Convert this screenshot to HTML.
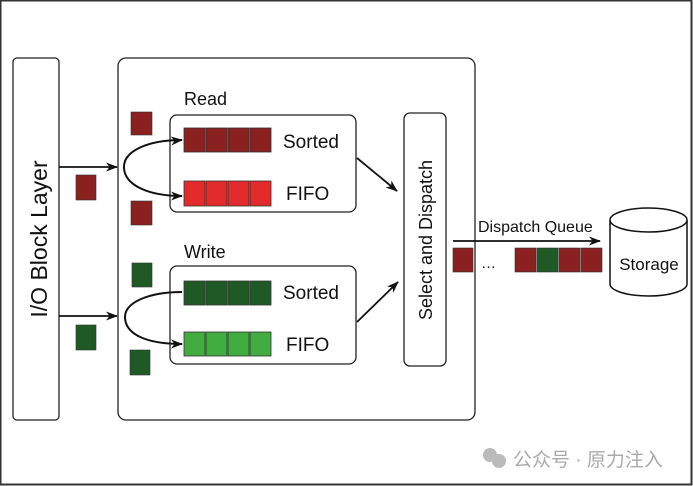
<!DOCTYPE html>
<html><head><meta charset="utf-8"><style>
html,body{margin:0;padding:0;background:#fff}
svg{display:block}
text{font-family:"Liberation Sans",Arial,sans-serif}
</style></head><body>
<svg width="693" height="486" viewBox="0 0 693 486" xmlns="http://www.w3.org/2000/svg">
<defs>
<marker id="a" markerWidth="12" markerHeight="9" refX="11" refY="4.5" orient="auto" markerUnits="userSpaceOnUse">
<path d="M0,0 L12,4.5 L0,9 L3.5,4.5 Z" fill="#111"/></marker>
</defs>
<rect x="0.5" y="0.5" width="691" height="484" fill="#fff" stroke="#333" stroke-width="2"/>
<rect x="13" y="58" width="46" height="362" rx="4" fill="#fff" stroke="#222" stroke-width="1.3"/>
<text transform="translate(47,239) rotate(-90)" font-size="23" text-anchor="middle" fill="#111">I/O Block Layer</text>
<rect x="118" y="58" width="357" height="362" rx="8" fill="#fff" stroke="#222" stroke-width="1.3"/>
<line x1="59" y1="167" x2="117" y2="167" stroke="#111" stroke-width="1.8" marker-end="url(#a)"/>
<line x1="59" y1="316" x2="117" y2="316" stroke="#111" stroke-width="1.8" marker-end="url(#a)"/>
<rect x="76" y="175" width="20" height="25" fill="#8b2020" stroke="#333" stroke-width="0.6"/>
<rect x="76" y="325" width="20" height="25" fill="#1f5a26" stroke="#333" stroke-width="0.6"/>
<text x="184" y="105" font-size="18" fill="#111">Read</text>
<rect x="170" y="115" width="186" height="97" rx="7" fill="#fff" stroke="#222" stroke-width="1.3"/>
<rect x="131" y="112" width="21" height="23" fill="#8b2020" stroke="#333" stroke-width="0.6"/>
<rect x="131" y="201" width="21" height="24" fill="#8b2020" stroke="#333" stroke-width="0.6"/>
<g fill="#8b2020" stroke="#333" stroke-width="0.8">
<rect x="184" y="128" width="21" height="24"/><rect x="206" y="128" width="21" height="24"/><rect x="228" y="128" width="21" height="24"/><rect x="250" y="128" width="21" height="24"/></g>
<g fill="#e32b2b" stroke="#333" stroke-width="0.8">
<rect x="184" y="181" width="21" height="25"/><rect x="206" y="181" width="21" height="25"/><rect x="228" y="181" width="21" height="25"/><rect x="250" y="181" width="21" height="25"/></g>
<text x="283" y="148" font-size="19" fill="#111">Sorted</text>
<text x="286" y="200" font-size="19" fill="#111">FIFO</text>
<path d="M182,140 C150,140 123,150 124,168 C125,186 150,196 182,196" fill="none" stroke="#111" stroke-width="2" marker-end="url(#a)"/>
<path d="M160,142 L182,140" fill="none" stroke="none" marker-end="url(#a)"/>
<text x="184" y="258" font-size="18" fill="#111">Write</text>
<rect x="170" y="266" width="186" height="98" rx="7" fill="#fff" stroke="#222" stroke-width="1.3"/>
<rect x="132" y="263" width="20" height="24" fill="#1f5a26" stroke="#333" stroke-width="0.6"/>
<rect x="130" y="350" width="20" height="25" fill="#1f5a26" stroke="#333" stroke-width="0.6"/>
<g fill="#1f5a26" stroke="#333" stroke-width="0.8">
<rect x="184" y="281" width="21" height="24"/><rect x="206" y="281" width="21" height="24"/><rect x="228" y="281" width="21" height="24"/><rect x="250" y="281" width="21" height="24"/></g>
<g fill="#41ad41" stroke="#333" stroke-width="0.8">
<rect x="184" y="332" width="21" height="24"/><rect x="206" y="332" width="21" height="24"/><rect x="228" y="332" width="21" height="24"/><rect x="250" y="332" width="21" height="24"/></g>
<text x="283" y="299" font-size="19" fill="#111">Sorted</text>
<text x="286" y="351" font-size="19" fill="#111">FIFO</text>
<path d="M182,292 C150,292 124,302 125,318 C126,336 150,344 182,344" fill="none" stroke="#111" stroke-width="2" marker-end="url(#a)"/>
<rect x="404" y="113" width="42" height="253" rx="6" fill="#fff" stroke="#222" stroke-width="1.3"/>
<text transform="translate(432,240) rotate(-90)" font-size="18" text-anchor="middle" fill="#111">Select and Dispatch</text>
<line x1="357" y1="158" x2="397" y2="191" stroke="#111" stroke-width="1.8" marker-end="url(#a)"/>
<line x1="357" y1="322" x2="398" y2="282" stroke="#111" stroke-width="1.8" marker-end="url(#a)"/>
<text x="478" y="232" font-size="16" fill="#111">Dispatch Queue</text>
<line x1="453" y1="241" x2="600" y2="241" stroke="#111" stroke-width="1.8" marker-end="url(#a)"/>
<rect x="453" y="248" width="20" height="24" fill="#8b2020" stroke="#333" stroke-width="0.6"/>
<text x="481" y="268" font-size="15" fill="#111">…</text>
<rect x="515" y="248" width="21" height="24" fill="#8b2020" stroke="#333" stroke-width="0.6"/>
<rect x="537" y="248" width="21" height="24" fill="#1f5a26" stroke="#333" stroke-width="0.6"/>
<rect x="559" y="248" width="21" height="24" fill="#8b2020" stroke="#333" stroke-width="0.6"/>
<rect x="581" y="248" width="21" height="24" fill="#8b2020" stroke="#333" stroke-width="0.6"/>
<path d="M610,220 L610,284 A38.5,12 0 0 0 687,284 L687,220" fill="#fff" stroke="#111" stroke-width="1.5"/>
<ellipse cx="648.5" cy="220" rx="38.5" ry="12" fill="#fff" stroke="#111" stroke-width="1.5"/>
<text x="649" y="270" font-size="17" text-anchor="middle" fill="#111">Storage</text>
<circle cx="490" cy="455" r="7" fill="#bbb"/><circle cx="499" cy="461" r="7" fill="#bbb"/>
<text x="513" y="466" font-size="19" fill="#aaa" style="font-family:'Liberation Sans','Noto Sans CJK SC',sans-serif">公众号 · 原力注入</text>
</svg>
</body></html>
